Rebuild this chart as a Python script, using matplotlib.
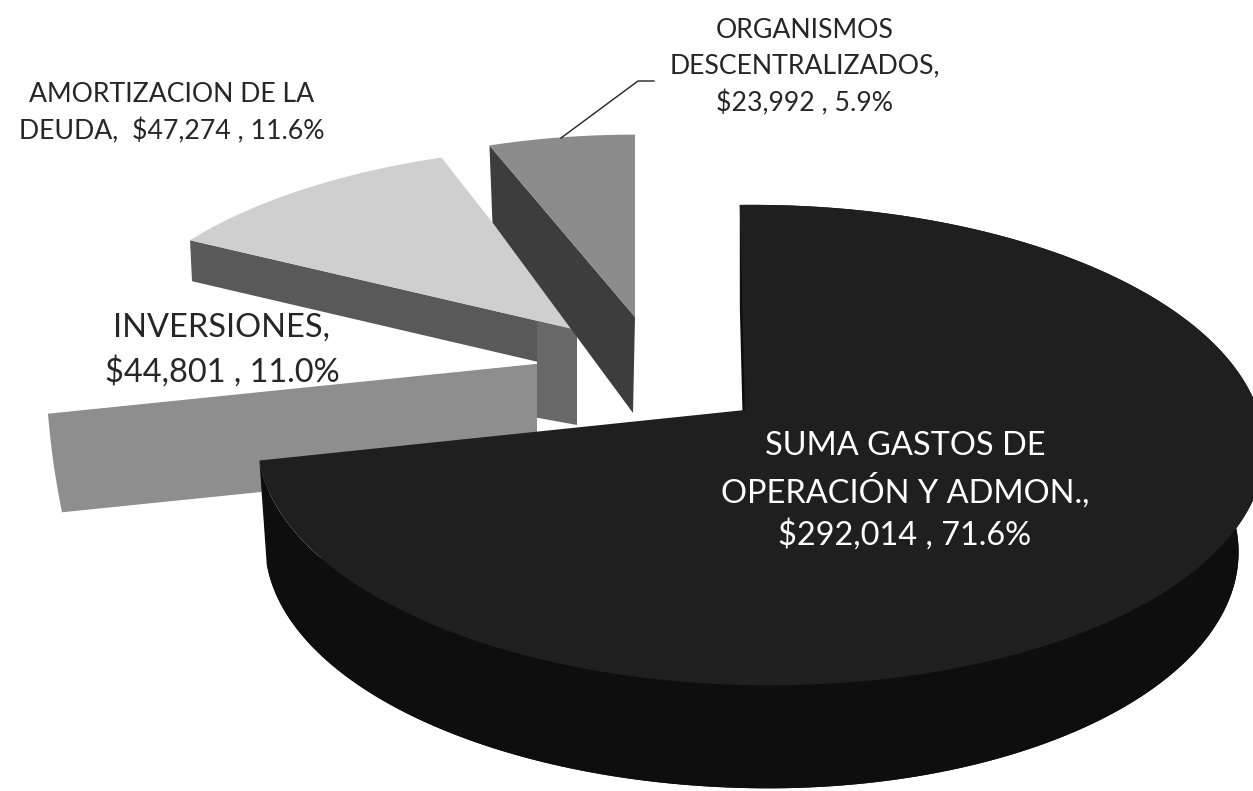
import numpy as np
from matplotlib import pyplot as plt

CATEGORIES = ['SUMA GASTOS DE\nOPERACIÓN Y ADMON.,', 'INVERSIONES,',
              'AMORTIZACION DE LA\nDEUDA, ', 'ORGANISMOS\nDESCENTRALIZADOS,']
AMOUNTS = [292014, 44801, 47274, 23992]
SHARES = [71.6, 11.0, 11.6, 5.9]

# look of the tilted pie, in pixels of the picture
PERSPECTIVE = 0.146
INNER_CUT_X = 537
# x, y, width, height, skew, sideways tilt
BIG_VIEW = (745, 410, 497.5, 235, -6, -0.03)
AMORT_VIEW = (577, 330, 473, 210, 18, 0)
ORG_VIEW = (635, 317, 458, 209, 0, 0)


def slice_angles():
    # clockwise from 12 o'clock, as the pie was drawn
    edges = np.cumsum([0] + AMOUNTS) / sum(AMOUNTS) * 360
    return [(edges[i], edges[i + 1]) for i in range(len(AMOUNTS))]


def project(theta, view):
    x0, y0, bx, by, skew, tilt = view
    t = np.radians(theta)
    u = np.sin(t)
    v = np.cos(t)
    w = 1 + PERSPECTIVE * v + tilt * u
    return x0 + (bx * u + skew * v) / w, y0 - by * v / w


def draw_big(ax, start, end):
    arc = np.linspace(start, end, 300)
    x, y = project(arc, BIG_VIEW)
    # sides first: the same outline pushed down and drawn in a bit
    dx = np.where(x < BIG_VIEW[0], (BIG_VIEW[0] - x) * 0.015, (BIG_VIEW[0] - x) * 0.05)
    ax.fill(np.r_[x, (x + dx)[::-1]], np.r_[y, (y + 103)[::-1]], color='#0e0e0e', lw=0)
    ax.fill(np.r_[x + dx, BIG_VIEW[0]], np.r_[y + 103, BIG_VIEW[1] + 103], color='#0e0e0e', lw=0)
    ax.fill(np.r_[x, BIG_VIEW[0]], np.r_[y, BIG_VIEW[1]], color='#1f1f1f', lw=0)


def draw_inversiones(ax, start, end):
    # seen almost edge on: its two cut edges run parallel behind the big slice
    half = (end - start) / 2
    d = np.linspace(-half, half, 60)
    tan_d = np.tan(np.radians(d))
    half_tan = np.tan(np.radians(half))
    height = 50 / half_tan
    outer_x = 53.5 + 1.5 * (1 / np.cos(np.radians(d)) - 1) / (1 / np.cos(np.radians(half)) - 1) + 7 * tan_d / half_tan
    outer_y = 463 + height * tan_d - 0.102 * (outer_x - 55)
    inner_y = 463 + height * tan_d - 0.102 * (INNER_CUT_X - 55)
    ax.fill(np.r_[outer_x, np.full(d.size, INNER_CUT_X)[::-1]], np.r_[outer_y, inner_y[::-1]],
            color='#8e8e8e', lw=0)


def draw_amortizacion(ax, start, end):
    arc = np.linspace(start, end, 80)
    x, y = project(arc, AMORT_VIEW)
    px, py = AMORT_VIEW[0], AMORT_VIEW[1]
    ax.fill([x[0], px, px, x[0] + 2], [y[0], py, py + 41, y[0] + 41], color='#595959', lw=0)
    t = (INNER_CUT_X - x[0]) / (px - x[0])
    cut_y = y[0] + t * (py - y[0])
    ax.fill([INNER_CUT_X, px, px, INNER_CUT_X], [cut_y, py, py + 95, cut_y + 97], color='#686868', lw=0)
    ax.fill(np.r_[x, px], np.r_[y, py], color='#cfcfcf', lw=0)


def draw_organismos(ax, start, end):
    arc = np.linspace(start, end, 60)
    x, y = project(arc, ORG_VIEW)
    px, py = ORG_VIEW[0], ORG_VIEW[1]
    ax.fill([x[0], px, px - 2, x[0] + 3], [y[0], py, py + 96, y[0] + 77], color='#3d3d3d', lw=0)
    ax.fill(np.r_[x, px], np.r_[y, py], color='#8c8c8c', lw=0)


def main():
    plt.rcParams['font.family'] = ['Lato', 'DejaVu Sans']
    fig = plt.figure(figsize=(12.53, 7.91), dpi=100)
    ax = fig.add_axes([0, 0, 1, 1])
    ax.set_xlim(0, 1253)
    ax.set_ylim(791, 0)
    ax.axis('off')

    angles = slice_angles()
    draw_amortizacion(ax, *angles[2])
    draw_inversiones(ax, *angles[1])
    draw_organismos(ax, *angles[3])
    draw_big(ax, *angles[0])

    ax.plot([561, 638, 654], [138, 81, 81], color='#222222', lw=1)

    big = '{}\n${:,} , {:.1f}%'.format(CATEGORIES[0], AMOUNTS[0], SHARES[0])
    inv = '{}\n${:,} , {:.1f}%'.format(CATEGORIES[1], AMOUNTS[1], SHARES[1])
    amo = '{} ${:,} , {:.1f}%'.format(CATEGORIES[2], AMOUNTS[2], SHARES[2])
    org = '{}\n${:,} , {:.1f}%'.format(CATEGORIES[3], AMOUNTS[3], SHARES[3])
    ax.text(905, 491, big, color='white', fontsize=23.4, ha='center', va='center', linespacing=1.4)
    ax.text(222, 350, inv, color='#262626', fontsize=23.4, ha='center', va='center', linespacing=1.5)
    ax.text(172, 113, amo, color='#262626', fontsize=19.2, ha='center', va='center', linespacing=1.55)
    ax.text(805, 67, org, color='#262626', fontsize=19.2, ha='center', va='center', linespacing=1.55)

    fig.savefig('out.png', dpi=100, facecolor='white')


if __name__ == '__main__':
    main()
